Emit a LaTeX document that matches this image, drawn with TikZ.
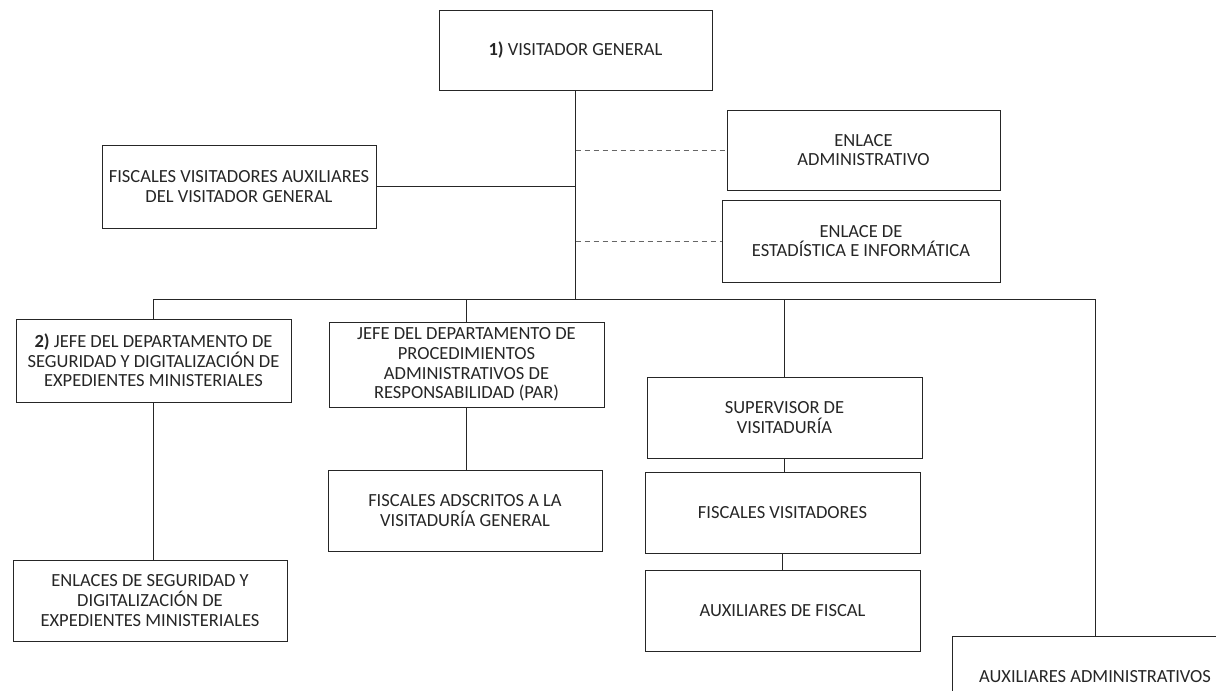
\documentclass[tikz,border=0pt]{standalone}
\usepackage{fontspec}
\setmainfont{Carlito}
\begin{document}
\begin{tikzpicture}[x=1pt,y=-1pt,
  box/.style={draw=black!85, line width=0.9pt, fill=white, align=center, text=black!85,
    font=\fontsize{18.5}{19.6}\selectfont, inner sep=2pt, minimum width=275pt, minimum height=81pt},
  conn/.style={draw=black!85, line width=0.9pt},
  dconn/.style={draw=black!60, line width=0.9pt, dash pattern=on 5pt off 4pt}]
\useasboundingbox (0,0) rectangle (1216,691);
\clip (0,0) rectangle (1216,691);
\fill[white] (0,0) rectangle (1216,691);

\node[box, minimum width=273pt, minimum height=80pt] (vg) at (575.5,50) {\textbf{1)} VISITADOR GENERAL};
\node[box, minimum width=274pt, minimum height=83pt] (fva) at (239,186.5) {FISCALES VISITADORES AUXILIARES\\DEL VISITADOR GENERAL};
\node[box, minimum width=273pt, minimum height=80pt] (ea) at (863.5,150) {ENLACE\\ADMINISTRATIVO};
\node[box, minimum width=278pt, minimum height=82pt] (ee) at (861,241) {ENLACE DE\\ESTADÍSTICA E INFORMÁTICA};
\node[box, minimum height=83pt] (j2) at (153.5,360.5) {\textbf{2)} JEFE DEL DEPARTAMENTO DE\\SEGURIDAD Y DIGITALIZACIÓN DE\\EXPEDIENTES MINISTERIALES};
\node[box, minimum height=85pt] (par) at (466.5,364.5) {JEFE DEL DEPARTAMENTO DE\\PROCEDIMIENTOS\\ADMINISTRATIVOS DE\\RESPONSABILIDAD (PAR)};
\node[box] (sup) at (784.5,417.5) {SUPERVISOR DE\\VISITADURÍA};
\node[box, minimum width=274pt] (enl) at (150,600.5) {ENLACES DE SEGURIDAD Y\\DIGITALIZACIÓN DE\\EXPEDIENTES MINISTERIALES};
\node[box, minimum width=274pt] (fad) at (465,510.5) {FISCALES ADSCRITOS A LA\\VISITADURÍA GENERAL};
\node[box] (fv) at (782.5,512.5) {FISCALES VISITADORES};
\node[box] (af) at (782.5,610.5) {AUXILIARES DE FISCAL};
\node[box, minimum width=286pt, minimum height=82pt] (aa) at (1095,677) {AUXILIARES ADMINISTRATIVOS};

\coordinate (busy) at (0,299);

% trunk
\draw[conn] (vg.south) -- (vg.south |- busy);
\draw[conn] (fva.east) -- (fva.east -| vg.south);
\draw[dconn] (ea.west -| vg.south) -- (ea.west);
\draw[dconn] (ee.west -| vg.south) -- (ee.west);
% bus
\draw[conn] (j2.north) -- (j2.north |- busy) -- (aa.north |- busy) -- (aa.north);
\draw[conn] (par.north) -- (par.north |- busy);
\draw[conn] (sup.north) -- (sup.north |- busy);
% children
\draw[conn] (j2.south) -- (j2.south |- enl.north);
\draw[conn] (par.south) -- (par.south |- fad.north);
\draw[conn] (sup.south) -- (sup.south |- fv.north);
\draw[conn] (fv.south) -- (fv.south |- af.north);
\end{tikzpicture}
\end{document}
